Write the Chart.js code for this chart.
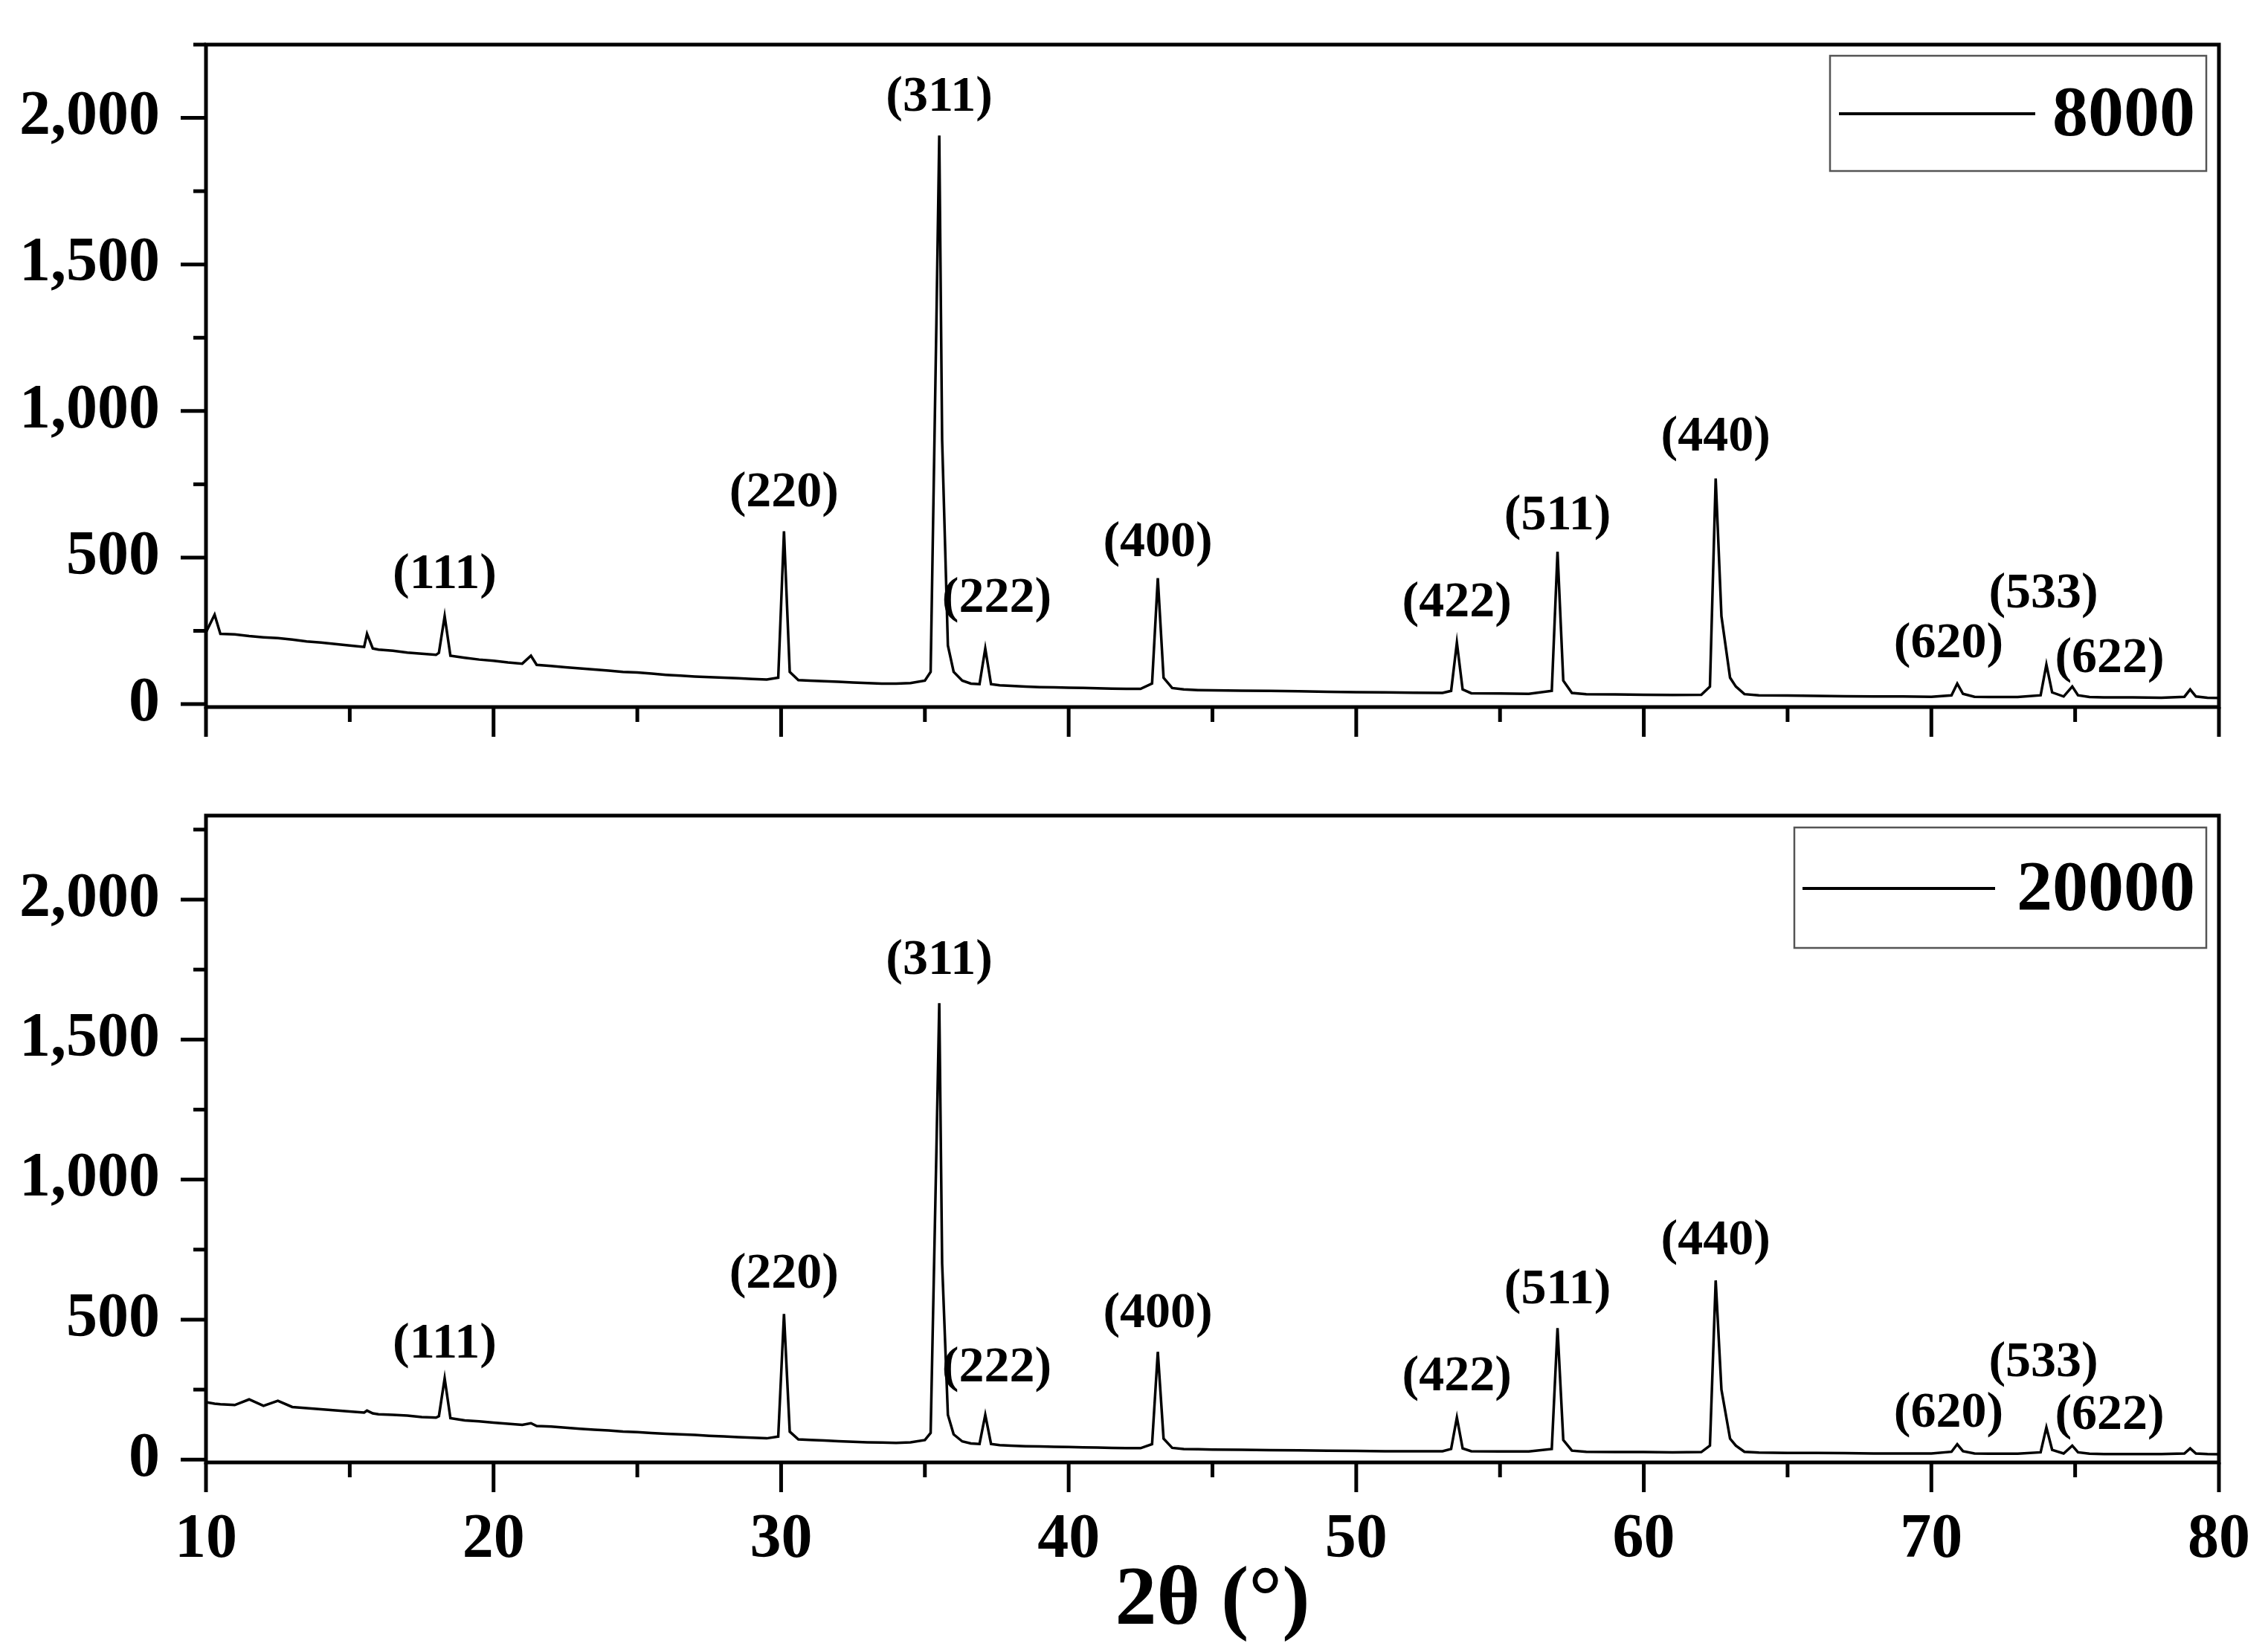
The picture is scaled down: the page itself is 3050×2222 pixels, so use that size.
<!DOCTYPE html>
<html>
<head>
<meta charset="utf-8">
<script src="https://cdn.jsdelivr.net/npm/chart.js@4"></script>
<style>
  body { margin: 0; background: #fff; }
  #wrap { position: relative; width: 3050px; height: 2222px; }
  .box { position: absolute; left: 0; width: 3050px; }
</style>
</head>
<body>
<div id="wrap">
  <div class="box" style="top:0;height:1000px"><canvas id="topChart"></canvas></div>
  <div class="box" style="top:1000px;height:1222px"><canvas id="bottomChart"></canvas></div>
</div>
<script>
// 2-theta positions (degrees)
var twoTheta = [
  10.0,10.3,10.5,11,11.5,12,12.5,13,13.5,14,14.5,15,15.5,15.6,15.8,16,16.5,17,17.5,18,
  18.1,18.3,18.5,19,19.5,20,20.5,21,21.3,21.5,22,22.5,23,23.5,24,24.5,25,25.5,26,26.5,
  27,27.5,28,28.5,29,29.5,29.9,30.1,30.3,30.6,31,31.5,32,32.5,33,33.5,34,34.5,35,35.2,
  35.4,35.5,35.6,35.8,36.0,36.3,36.6,36.9,37.1,37.3,37.6,38,38.5,39,39.5,40,40.5,41,41.5,42,
  42.5,42.9,43.1,43.3,43.6,44,44.5,45,46,47,48,49,50,51,52,53,53.3,53.5,53.7,54,
  55,56,56.8,57.0,57.2,57.5,58,59,60,61,62,62.3,62.5,62.7,63.0,63.2,63.5,64,65,66,
  67,68,69,70,70.7,70.9,71.1,71.5,72,73,73.8,74.0,74.2,74.6,74.9,75.1,75.5,76,77,78,
  78.8,79.0,79.2,79.6,80
];
// intensity, 8000 sample
var int8000 = [
  245,305,240,238,232,228,225,220,214,210,205,200,195,240,190,186,182,176,172,168,
  175,300,165,158,152,148,142,138,165,134,130,126,122,118,114,110,108,104,100,97,
  94,92,90,88,86,84,90,590,110,82,80,78,76,74,72,70,70,72,80,110,
  1300,1940,900,200,110,80,70,68,190,68,64,62,60,58,57,56,55,54,53,52,
  52,70,430,90,55,50,48,47,46,45,44,42,41,40,39,38,45,210,50,37,
  36,35,45,520,80,38,34,33,32,31,32,60,770,300,90,60,34,30,29,28,
  27,26,26,25,30,70,35,25,24,24,30,135,40,26,60,30,24,23,23,22,
  25,50,26,22,21
];
// intensity, 20000 sample
var int20000 = [
  205,200,198,195,215,192,210,188,184,180,176,172,168,175,165,162,160,157,152,150,
  155,290,148,140,137,132,128,124,130,120,118,114,110,107,104,100,98,95,92,90,
  88,85,83,80,78,76,82,520,100,72,70,68,66,64,62,61,60,62,70,95,
  1100,1630,700,160,90,65,58,56,160,56,52,50,48,47,46,45,44,43,42,41,
  41,55,385,75,42,38,37,36,35,34,33,32,31,30,30,30,38,150,40,30,
  29,29,38,470,70,32,28,27,27,26,27,50,640,250,75,50,28,25,24,24,
  23,22,22,22,28,55,30,22,21,21,26,115,35,22,50,26,21,20,20,20,
  22,40,22,20,19
];
var yTicks = [0, 500, 1000, 1500, 2000];
var xTicks = [10, 20, 30, 40, 50, 60, 70, 80];
// peak labels: text, x, y (data units)
var hkl = ["(111)","(220)","(311)","(222)","(400)","(422)","(511)","(440)","(620)","(533)","(622)"];
var hklX = [18.3,30.1,35.5,37.5,43.1,53.5,57.0,62.5,70.6,73.9,76.2];
var hklY8000 = [440,720,2070,360,550,345,640,910,205,375,155];
var hklY20000 = [410,660,1780,325,520,295,605,780,165,345,155];

var serif = "'Liberation Serif', 'DejaVu Serif', serif";

function makeChart(id, values, label, labY, yMax, opts) {
  var decor = {
    id: 'decor',
    afterDraw: function (chart) {
      var c = chart.ctx, a = chart.chartArea;
      var xs = chart.scales.x, ys = chart.scales.y;
      c.save();
      c.strokeStyle = '#000';
      c.lineWidth = 5;
      c.strokeRect(a.left, a.top, a.right - a.left, a.bottom - a.top);
      // x ticks
      for (var v = 10; v <= 80; v += 5) {
        var px = xs.getPixelForValue(v);
        c.beginPath();
        c.moveTo(px, a.bottom);
        c.lineTo(px, a.bottom + (v % 10 === 0 ? 40 : 20));
        c.stroke();
      }
      // y ticks
      for (var w = 0; w <= yMax; w += 250) {
        var py = ys.getPixelForValue(w);
        c.beginPath();
        c.moveTo(a.left, py);
        c.lineTo(a.left - (w % 500 === 0 ? 34 : 17), py);
        c.stroke();
      }
      // peak labels
      c.fillStyle = '#000';
      c.font = 'bold 68px ' + serif;
      c.textAlign = 'center';
      c.textBaseline = 'middle';
      hkl.forEach(function (t, i) {
        c.fillText(t, xs.getPixelForValue(hklX[i]), ys.getPixelForValue(labY[i]));
      });
      // legend
      var L = opts.legend;
      c.lineWidth = 2.5;
      c.strokeStyle = '#555';
      c.strokeRect(L.x0, L.y0, L.x1 - L.x0, L.y1 - L.y0);
      c.strokeStyle = '#000';
      c.lineWidth = 4;
      c.beginPath();
      c.moveTo(L.lx0, L.ly);
      c.lineTo(L.lx1, L.ly);
      c.stroke();
      c.font = 'bold 96px ' + serif;
      c.textAlign = 'right';
      c.fillText(label, L.tx, L.ly + 4);
      c.restore();
    }
  };
  return new Chart(document.getElementById(id).getContext('2d'), {
    type: 'line',
    data: {
      datasets: [{
        data: twoTheta.map(function (x, i) { return { x: x, y: values[i] }; }),
        borderColor: '#000',
        borderWidth: 3.5,
        pointRadius: 0,
        tension: 0
      }]
    },
    options: {
      responsive: true,
      maintainAspectRatio: false,
      animation: false,
      layout: { padding: { top: opts.top, right: 66, left: 0, bottom: 0 } },
      plugins: { legend: { display: false }, tooltip: { enabled: false } },
      scales: {
        x: {
          type: 'linear', min: 10, max: 80,
          grid: { display: false, drawTicks: false },
          border: { display: false },
          title: {
            display: opts.showX, text: '2θ (°)',
            font: { family: serif, size: 112, weight: 'bold' }, color: '#000',
            padding: { top: 10, bottom: 0 }
          },
          ticks: {
            display: opts.showX, padding: 55, color: '#000',
            maxRotation: 0,
            font: { family: serif, size: 84, weight: 'bold' }
          },
          afterBuildTicks: function (s) {
            s.ticks = xTicks.map(function (v) { return { value: v }; });
          },
          afterFit: function (s) {
            s.height = opts.xh;
            s.paddingLeft = 0; s.paddingRight = 0;
          }
        },
        y: {
          min: -10, max: yMax,
          grid: { display: false, drawTicks: false },
          border: { display: false },
          ticks: {
            padding: 62, color: '#000',
            font: { family: serif, size: 84, weight: 'bold' }
          },
          afterBuildTicks: function (s) {
            s.ticks = yTicks.map(function (v) { return { value: v }; });
          },
          afterFit: function (s) {
            s.width = 277;
            s.paddingTop = 0; s.paddingBottom = 0;
          }
        }
      }
    },
    plugins: [decor]
  });
}

makeChart('topChart', int8000, '8000', hklY8000, 2250, {
  top: 60, xh: 49, showX: false,
  legend: { x0: 2461, y0: 75, x1: 2967, y1: 230, lx0: 2473, lx1: 2737, ly: 153, tx: 2952 }
});
makeChart('bottomChart', int20000, '20000', hklY20000, 2300, {
  top: 97, xh: 255, showX: true,
  legend: { x0: 2413, y0: 113, x1: 2967, y1: 275, lx0: 2424, lx1: 2683, ly: 195, tx: 2952 }
});
</script>
</body>
</html>
